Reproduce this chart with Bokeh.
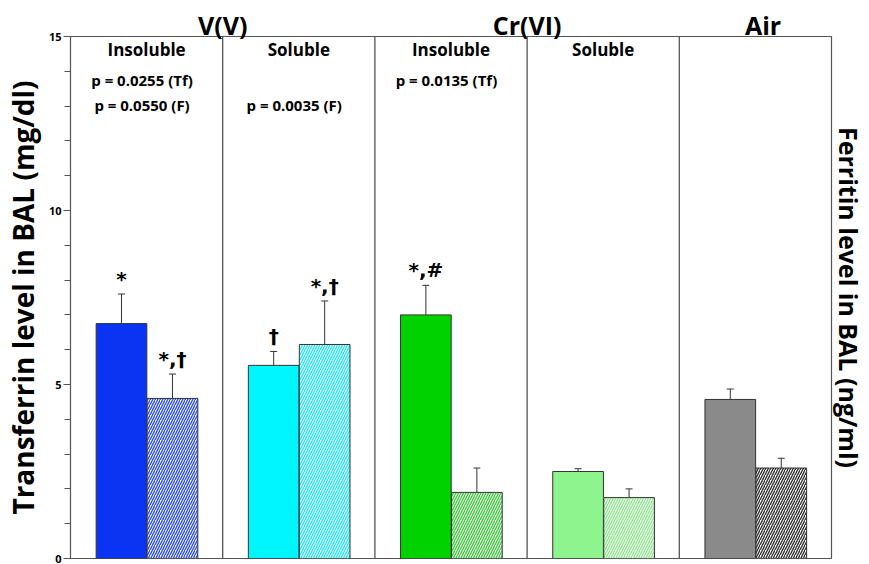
from bokeh.plotting import figure
from bokeh.models import (ColumnDataSource, FixedTicker, LinearAxis, Range1d,
                          Label, Whisker, TeeHead, Span)
from bokeh.core.properties import value
from bokeh.embed import file_html
from bokeh.resources import INLINE

# Exposure groups (one panel each)
groups = ["V(V) Insoluble", "V(V) Soluble", "Cr(VI) Insoluble", "Cr(VI) Soluble", "Air"]
panel_titles = ["Insoluble", "Soluble", "Insoluble", "Soluble", ""]
metal_titles = ["V(V)", "Cr(VI)", "Air"]
metal_title_pos = [1.0, 3.0, 4.55]

# Transferrin (mg/dl) - solid bars, mean and SE
transferrin = [6.75, 5.55, 7.0, 2.5, 4.57]
transferrin_err = [0.85, 0.4, 0.85, 0.08, 0.3]
# Ferritin (ng/ml) - hatched bars, mean and SE
ferritin = [4.6, 6.15, 1.9, 1.75, 2.6]
ferritin_err = [0.7, 1.25, 0.7, 0.25, 0.28]

# Significance marks above the error bars
marks_tf = ["*", "†", "*,#", "", ""]
marks_f = ["*,†", "*,†", "", "", ""]

# p-values written in each panel
p_line1 = ["p = 0.0255 (Tf)", "", "p = 0.0135 (Tf)", "", ""]
p_line2 = ["p = 0.0550 (F)", "p = 0.0035 (F)", "", "", ""]

solid_colors = ["#0b34f2", "#00f6ff", "#00d200", "#8ef58e", "#8a8a8a"]
hatch_colors = ["#2a4cf0", "#22e8f5", "#3ccc3c", "#8ee88e", "#333333"]

FONT = "Open Sans"
AX = "#555555"

x_tf = [i + 0.335 for i in range(5)]
x_f = [i + 0.67 for i in range(5)]
bw = 0.333

up_tf = [v + e for v, e in zip(transferrin, transferrin_err)]
up_f = [v + e for v, e in zip(ferritin, ferritin_err)]

src_tf = ColumnDataSource(dict(x=x_tf, top=transferrin, up=up_tf, color=solid_colors))
src_f = ColumnDataSource(dict(x=x_f, top=ferritin, up=up_f, color=hatch_colors))

# only the bars that carry a mark
mk_x, mk_y, mk_t = [], [], []
for xs, ys, ms in ((x_tf, up_tf, marks_tf), (x_f, up_f, marks_f)):
    for xv, yv, m in zip(xs, ys, ms):
        if m:
            mk_x.append(xv)
            mk_y.append(yv)
            mk_t.append(m)
src_mk = ColumnDataSource(dict(x=mk_x, y=mk_y, mark=mk_t))

p = figure(width=869, height=564, output_backend="svg", toolbar_location=None,
           x_range=Range1d(0, 5), y_range=Range1d(0, 15),
           min_border_left=68, min_border_right=38, min_border_top=36, min_border_bottom=6)
p.grid.visible = False
p.outline_line_color = AX
p.outline_line_width = 1.2
p.background_fill_color = "white"
p.border_fill_color = "white"
p.xaxis.visible = False

# Left axis: transferrin
ya = p.yaxis[0]
ya.ticker = FixedTicker(ticks=[0, 5, 10, 15], minor_ticks=list(range(16)))
ya.axis_label = "Transferrin level in BAL (mg/dl)"
ya.axis_label_text_font = FONT
ya.axis_label_text_font_style = "bold"
ya.axis_label_text_font_size = "28px"
ya.axis_label_text_color = "black"
ya.axis_label_standoff = 4
ya.major_label_text_font = FONT
ya.major_label_text_font_style = "bold"
ya.major_label_text_font_size = "11px"
ya.major_label_text_color = "black"
ya.major_label_standoff = 2
ya.axis_line_color = AX
ya.major_tick_line_color = AX
ya.minor_tick_line_color = AX
ya.major_tick_in = 0
ya.major_tick_out = 7
ya.minor_tick_in = 0
ya.minor_tick_out = 6

# Right axis: ferritin label only
ra = LinearAxis(axis_label="Ferritin level in BAL (ng/ml)",
                ticker=FixedTicker(ticks=[]))
ra.axis_label_text_font = FONT
ra.axis_label_text_font_style = "bold"
ra.axis_label_text_font_size = "25px"
ra.axis_label_text_color = "black"
ra.axis_label_standoff = 0
ra.major_label_standoff = 0
ra.major_tick_out = 0
ra.minor_tick_out = 0
ra.axis_line_color = None
p.add_layout(ra, "right")

# Top axis carrying the metal group titles
ta = LinearAxis(ticker=FixedTicker(ticks=metal_title_pos, minor_ticks=[]),
                major_label_overrides={k: t for k, t in zip(metal_title_pos, metal_titles)})
ta.major_label_text_font = FONT
ta.major_label_text_font_style = "bold"
ta.major_label_text_font_size = "25px"
ta.major_label_text_color = "black"
ta.major_label_standoff = -5
ta.major_tick_out = 0
ta.major_tick_in = 0
ta.minor_tick_out = 0
ta.axis_line_color = None
p.add_layout(ta, "above")

# Panel dividers
for b in [1, 2, 3, 4]:
    p.add_layout(Span(location=b, dimension="height", line_color=AX, line_width=1.3))

# Bars
p.vbar(x="x", top="top", width=bw, bottom=0, source=src_tf,
       fill_color="color", line_color="#333333", line_width=1)
p.vbar(x="x", top="top", width=bw, bottom=0, source=src_f,
       fill_color="white", hatch_pattern="/", hatch_color="color",
       hatch_scale=5, hatch_weight=1.4, line_color="#333333", line_width=1)

# Upper error bars
for src in (src_tf, src_f):
    p.add_layout(Whisker(base="x", lower="top", upper="up", source=src,
                         line_color="#333333", line_width=1,
                         lower_head=None,
                         upper_head=TeeHead(size=7, line_color="#333333", line_width=1)))

# Significance marks
p.text(x="x", y="y", text="mark", source=src_mk, y_offset=-3,
       text_align="center", text_baseline="bottom",
       text_font=value("DejaVu Sans"), text_font_style="bold",
       text_font_size="20px", text_color="black")

# Panel headings and p-values
for i in range(5):
    cx = i + 0.5
    if panel_titles[i]:
        p.add_layout(Label(x=cx, y=15, y_offset=-13, text=panel_titles[i],
                           text_align="center", text_baseline="middle",
                           text_font=FONT, text_font_style="bold",
                           text_font_size="17px", text_color="black"))
    if p_line1[i]:
        p.add_layout(Label(x=cx - 0.03, y=15, y_offset=-43, text=p_line1[i],
                           text_align="center", text_baseline="middle",
                           text_font=FONT, text_font_style="bold",
                           text_font_size="15px", text_color="black"))
    if p_line2[i]:
        p.add_layout(Label(x=cx - 0.03, y=15, y_offset=-68, text=p_line2[i],
                           text_align="center", text_baseline="middle",
                           text_font=FONT, text_font_style="bold",
                           text_font_size="15px", text_color="black"))

open("out.html", "w").write(file_html(p, INLINE))
